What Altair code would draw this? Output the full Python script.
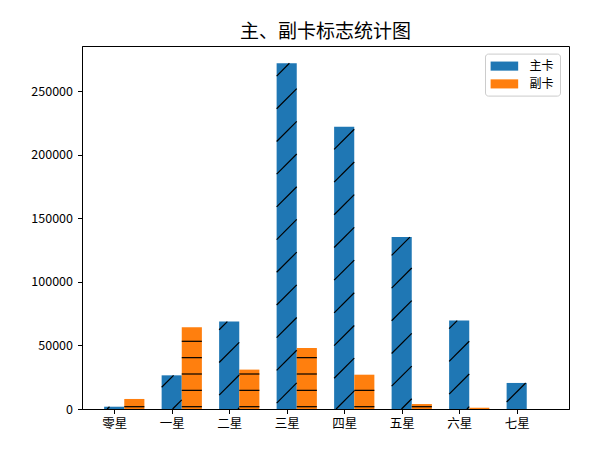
import altair as alt
import pandas as pd

categories = ["零星", "一星", "二星", "三星", "四星", "五星", "六星", "七星"]
main_values = [1800, 26500, 68800, 272100, 222100, 135300, 69600, 20500]
sub_values = [7900, 64400, 31000, 48100, 27000, 3900, 1000, 0]
series_names = ["主卡", "副卡"]
series_colors = ["#1f77b4", "#ff7f0e"]

W, H = 487, 363
X_DOMAIN = [-0.56, 7.91]
Y_MAX = max(main_values + sub_values) * 1.05
BAR_W = 0.35
FONT = "Noto Sans CJK SC"

rows = []
for i, (m, s) in enumerate(zip(main_values, sub_values)):
    rows.append({"x0": i - BAR_W / 2, "x1": i + BAR_W / 2, "v": m, "base": 0, "series": series_names[0]})
    rows.append({"x0": i + BAR_W / 2, "x1": i + 1.5 * BAR_W, "v": s, "base": 0, "series": series_names[1]})
bars_df = pd.DataFrame(rows)

# hatch decoration (pixel-space pattern converted to data units)
sx = W / (X_DOMAIN[1] - X_DOMAIN[0])
sy = H / Y_MAX
hatch = []
for r in rows:
    x0p = (r["x0"] - X_DOMAIN[0]) * sx
    x1p = (r["x1"] - X_DOMAIN[0]) * sx
    hp = r["v"] * sy
    if r["series"] == series_names[0]:
        for k in range(-40, 40):
            b = 7.5 + k * 32.7
            xs = max(x0p, -b)
            xe = min(x1p, hp - b)
            if xe - xs > 0.3:
                hatch.append({
                    "a": xs / sx + X_DOMAIN[0], "a2": xe / sx + X_DOMAIN[0],
                    "b": (xs + b) / sy, "b2": (xe + b) / sy,
                })
    else:
        h = 2.3
        while h < hp - 0.8:
            hatch.append({"a": r["x0"], "a2": r["x1"], "b": h / sy, "b2": h / sy})
            h += 16.35
hatch_df = pd.DataFrame(hatch)

label_expr = "[" + ",".join("'%s'" % c for c in categories) + "][datum.value]"

xscale = alt.Scale(domain=X_DOMAIN, nice=False, zero=False)
yscale = alt.Scale(domain=[0, Y_MAX], nice=False)

bars = alt.Chart(bars_df).mark_bar(strokeWidth=0, opacity=1).encode(
    x=alt.X("x0:Q", scale=xscale, title=None,
            axis=alt.Axis(values=list(range(len(categories))), labelExpr=label_expr,
                          grid=False, tickSize=4.5, labelPadding=4, labelFontSize=12.5,
                          labelFont=FONT, labelColor="black", domainColor="black",
                          tickColor="black", labelFlush=False)),
    x2="x1:Q",
    y=alt.Y("v:Q", scale=yscale, title=None,
            axis=alt.Axis(values=[0, 50000, 100000, 150000, 200000, 250000], format="d",
                          grid=False, tickSize=4.5, labelPadding=5, labelFontSize=12.5,
                          labelFont=FONT, labelColor="black", domainColor="black",
                          tickColor="black")),
    y2="base:Q",
    color=alt.Color("series:N",
                    scale=alt.Scale(domain=series_names, range=series_colors),
                    legend=alt.Legend(title=None, orient="none", legendX=403, legendY=7.6,
                                      symbolType="M-1,-0.66H3V0.66H-1Z", symbolSize=190,
                                      symbolStrokeWidth=0, symbolOpacity=1,
                                      labelFontSize=12, labelFont=FONT, labelColor="black",
                                      labelOffset=25, rowPadding=4.8, padding=5.5,
                                      strokeColor="#cccccc", fillColor="white",
                                      cornerRadius=3)),
)

hatch_layer = alt.Chart(hatch_df).mark_rule(color="black", strokeWidth=1.2).encode(
    x=alt.X("a:Q", scale=xscale),
    x2="a2:Q",
    y=alt.Y("b:Q", scale=yscale),
    y2="b2:Q",
)

chart = alt.layer(bars, hatch_layer).properties(
    width=W, height=H,
    title=alt.TitleParams("主、副卡标志统计图", fontSize=19, font=FONT, fontWeight="normal",
                          anchor="middle", offset=4, color="black"),
    autosize="none",
    background="white",
    padding={"left": 74, "top": 38, "right": 22, "bottom": 30},
).configure_view(stroke="black", strokeWidth=1)

chart.save("out.html", embed_options={"renderer": "svg", "actions": False})
